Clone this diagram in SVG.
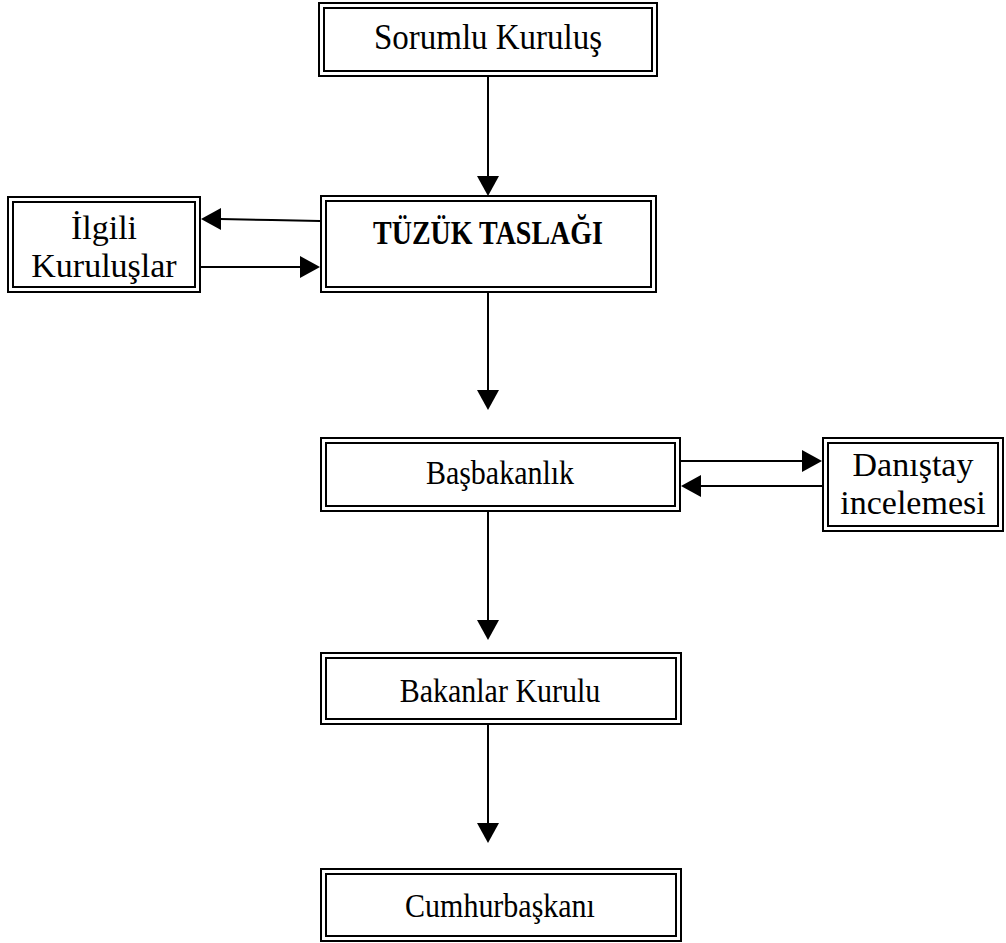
<svg xmlns="http://www.w3.org/2000/svg" width="1006" height="943" viewBox="0 0 1006 943">
<style>
.o{fill:#fff;stroke:#000;stroke-width:2}
.i{fill:none;stroke:#000;stroke-width:2}
.t{font-family:"Liberation Serif","Times New Roman",serif;font-size:30px;fill:#000;text-anchor:middle}
.b{font-weight:bold;font-size:28px}
.l{font-size:33px}
.m{font-size:34px}
.c{stroke:#000;stroke-width:2;fill:none}
.h{fill:#000}
</style>
<rect width="1006" height="943" fill="#fff"/>
<g id="sorumlu">
<rect class="o" x="319" y="3" width="338" height="73"/>
<rect class="i" x="324" y="8" width="328" height="63"/>
<text class="t l" transform="translate(488,49) scale(1,1.06)">Sorumlu Kuruluş</text>
</g>
<g id="tuzuk">
<rect class="o" x="321" y="196" width="335" height="96"/>
<rect class="i" x="326" y="201" width="325" height="86"/>
<text class="t b" transform="translate(488,244) scale(1,1.22)">TÜZÜK TASLAĞI</text>
</g>
<g id="ilgili">
<rect class="o" x="8" y="197" width="192" height="95"/>
<rect class="i" x="13" y="202" width="182" height="85"/>
<text class="t m" x="104" y="239">İlgili</text>
<text class="t m" x="104" y="277">Kuruluşlar</text>
</g>
<g id="basbakanlik">
<rect class="o" x="321" y="438" width="359" height="73"/>
<rect class="i" x="326" y="443" width="349" height="63"/>
<text class="t" transform="translate(500,484) scale(1,1.1)">Başbakanlık</text>
</g>
<g id="danistay">
<rect class="o" x="823" y="438" width="180" height="93"/>
<rect class="i" x="828" y="443" width="170" height="83"/>
<text class="t m" x="913" y="476">Danıştay</text>
<text class="t m" x="913" y="514">incelemesi</text>
</g>
<g id="bakanlar">
<rect class="o" x="321" y="653" width="360" height="71"/>
<rect class="i" x="326" y="658" width="350" height="61"/>
<text class="t" transform="translate(500,702) scale(1,1.1)">Bakanlar Kurulu</text>
</g>
<g id="cumhurbaskani">
<rect class="o" x="321" y="869" width="360" height="72"/>
<rect class="i" x="326" y="874" width="350" height="62"/>
<text class="t" transform="translate(500,917) scale(1,1.1)">Cumhurbaşkanı</text>
</g>
<g id="connectors">
<line class="c" x1="488" y1="77" x2="488" y2="178"/>
<polygon class="h" points="477,176 499,176 488,196"/>
<polyline class="c" points="320,221 272,220 220,219"/>
<polygon class="h" points="221,208 221,230 201,219"/>
<line class="c" x1="201" y1="267" x2="302" y2="267"/>
<polygon class="h" points="300,256 300,278 320,267"/>
<line class="c" x1="488" y1="292" x2="488" y2="392"/>
<polygon class="h" points="477,390 499,390 488,410"/>
<line class="c" x1="681" y1="461" x2="804" y2="461"/>
<polygon class="h" points="802,450 802,472 822,461"/>
<line class="c" x1="822" y1="486" x2="700" y2="486"/>
<polygon class="h" points="701,475 701,497 681,486"/>
<line class="c" x1="488" y1="512" x2="488" y2="622"/>
<polygon class="h" points="477,620 499,620 488,640"/>
<line class="c" x1="488" y1="725" x2="488" y2="825"/>
<polygon class="h" points="477,823 499,823 488,843"/>
</g>
</svg>
